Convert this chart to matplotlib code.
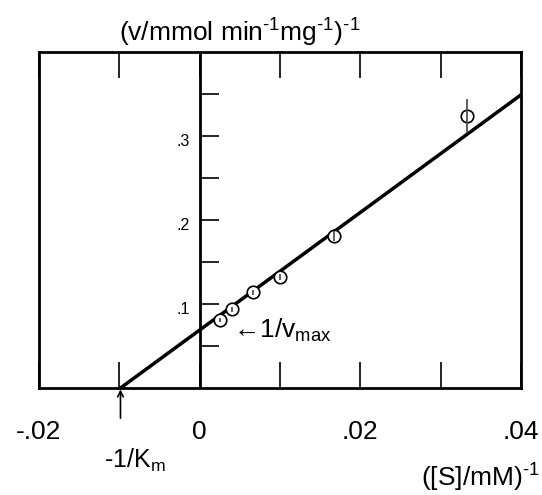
import numpy as np
import matplotlib
matplotlib.use("Agg")
import matplotlib.pyplot as plt

plt.rcParams['font.family'] = ['Liberation Sans', 'DejaVu Sans']
plt.rcParams['mathtext.fontset'] = 'custom'
plt.rcParams['mathtext.rm'] = 'Liberation Sans'
plt.rcParams['mathtext.it'] = 'Liberation Sans'

# 1/[S] (mM^-1), 1/v and error
inv_s = [0.0025, 0.0040, 0.00667, 0.0100, 0.0167, 0.0333]
inv_v = [0.081, 0.094, 0.114, 0.132, 0.181, 0.324]
inv_v_err = [0.002, 0.003, 0.003, 0.004, 0.006, 0.020]

# fitted line 1/v = b + m * 1/[S]
fit_intercept = 0.069
fit_slope = 7.0

x_ticks = [-0.02, -0.01, 0, 0.01, 0.02, 0.03, 0.04]
x_tick_labels = ["-.02", "", "0", "", ".02", "", ".04"]
y_ticks = [0.05, 0.10, 0.15, 0.20, 0.25, 0.30, 0.35]
y_labels = {0.10: ".1", 0.20: ".2", 0.30: ".3"}

SUP = "$^{\\text{-1}}$"

W, H = 542, 495
fig = plt.figure(figsize=(W / 100, H / 100), dpi=100)
ax = fig.add_axes([39 / W, (H - 388) / H, (521 - 39) / W, (388 - 52) / H])
ax.set_xlim(-0.02, 0.04)
ax.set_ylim(0, 0.4)

for s in ax.spines.values():
    s.set_linewidth(2)

ax.set_xticks(x_ticks)
ax.set_xticklabels(x_tick_labels, fontsize=19)
ax.tick_params(axis='x', direction='in', length=19, width=1.2, top=True, bottom=True, pad=23)
ax.set_yticks([])

# y axis at x = 0 with ticks to the right
ax.axvline(0, color='black', lw=2)
ax.hlines(y_ticks, 0, 0.0024, color='black', lw=1.2)
for v, lab in y_labels.items():
    ax.text(-0.0012, v - 0.006, lab, ha='right', va='center', fontsize=11.5)

# fitted line from x intercept to right edge
x_int = -fit_intercept / fit_slope
line_x = np.array([x_int, 0.04])
ax.plot(line_x, fit_intercept + fit_slope * line_x, color='black', lw=2.5, zorder=2,
        solid_capstyle='butt')

ax.plot(inv_s, inv_v, 'o', ms=9, mfc='white', mec='black', mew=1.2, zorder=3)
ax.vlines(inv_s, np.array(inv_v) - np.array(inv_v_err), np.array(inv_v) + np.array(inv_v_err),
          color='#444444', lw=1.2, zorder=4)

ax.text(0.0041, 0.0595, "\u21901/v$_{\\mathrm{max}}$", fontsize=19, ha='left', va='baseline')

ax.annotate("", xy=(x_int, 0), xycoords='data', xytext=(x_int, -0.036), textcoords='data',
            arrowprops=dict(arrowstyle='->', lw=1.2, color='black', shrinkA=0, shrinkB=1),
            annotation_clip=False)
ax.text(-0.01185, -0.095, "-1/K$_{\\mathrm{m}}$", fontsize=18, ha='left', va='baseline')
ax.text(0.0424, -0.117, "([S]/mM)" + SUP, fontsize=19, ha='right', va='baseline')
fig.text(119 / W, 1 - 33 / H, "(v/mmol min" + SUP + "mg" + SUP + ")" + SUP,
         fontsize=19, ha='left', va='center')

fig.savefig("out.png", dpi=100)
